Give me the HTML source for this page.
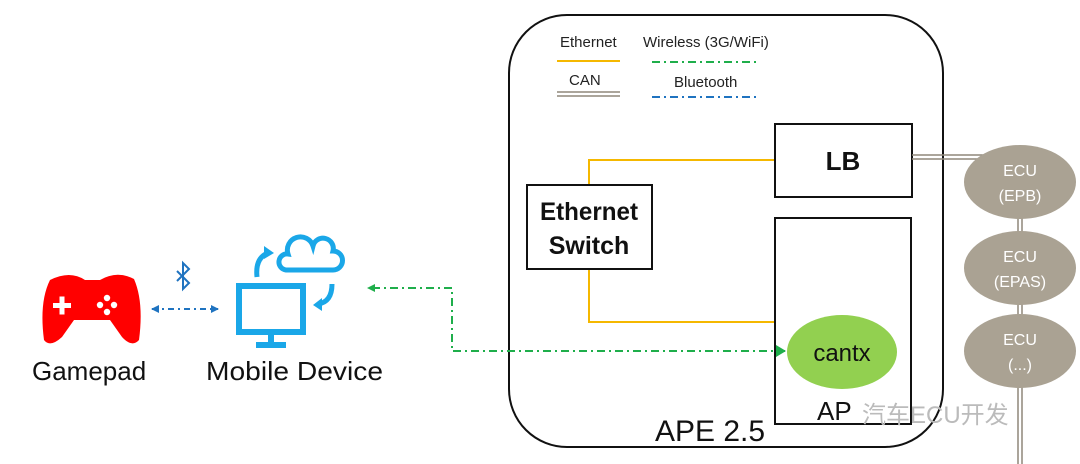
<!DOCTYPE html>
<html><head><meta charset="utf-8"><style>body{margin:0;background:#fff}svg{display:block}</style></head><body>
<svg width="1080" height="464" viewBox="0 0 1080 464" xmlns="http://www.w3.org/2000/svg" font-family="Liberation Sans, sans-serif">
<defs>
<marker id="ga" markerWidth="8" markerHeight="8" refX="7" refY="4" orient="auto" markerUnits="userSpaceOnUse"><path d="M0,0 L8,4 L0,8z" fill="#1fae4b"/></marker>
<marker id="ba" markerWidth="8" markerHeight="8" refX="7" refY="4" orient="auto-start-reverse" markerUnits="userSpaceOnUse"><path d="M0,0 L8,4 L0,8z" fill="#1f73c0"/></marker>
</defs>
<rect x="509" y="15" width="434" height="432" rx="58" fill="none" stroke="#111" stroke-width="2"/>
<text x="560" y="47" font-size="15" fill="#222">Ethernet</text>
<line x1="557" y1="61" x2="620" y2="61" stroke="#f5b800" stroke-width="2"/>
<text x="643" y="47" font-size="15" fill="#222">Wireless (3G/WiFi)</text>
<line x1="652" y1="62" x2="760" y2="62" stroke="#1fae4b" stroke-width="2" stroke-dasharray="8,4,2,4"/>
<text x="569" y="85" font-size="15" fill="#222">CAN</text>
<line x1="557" y1="92" x2="620" y2="92" stroke="#8f877a" stroke-width="1.5"/>
<line x1="557" y1="96" x2="620" y2="96" stroke="#8f877a" stroke-width="1.5"/>
<text x="674" y="87" font-size="15" fill="#222">Bluetooth</text>
<line x1="652" y1="97" x2="760" y2="97" stroke="#1f73c0" stroke-width="2" stroke-dasharray="8,4,2,4"/>
<polyline points="775,160 589,160 589,185" fill="none" stroke="#f5b800" stroke-width="2"/>
<polyline points="589,269 589,322 775,322" fill="none" stroke="#f5b800" stroke-width="2"/>
<rect x="775" y="124" width="137" height="73" fill="#fff" stroke="#111" stroke-width="2"/>
<text x="843" y="170" font-size="26" font-weight="bold" text-anchor="middle" fill="#111">LB</text>
<rect x="527" y="185" width="125" height="84" fill="#fff" stroke="#111" stroke-width="2"/>
<text x="589" y="220" font-size="25" font-weight="bold" text-anchor="middle" fill="#111" textLength="98" lengthAdjust="spacingAndGlyphs">Ethernet</text>
<text x="589" y="254" font-size="25" font-weight="bold" text-anchor="middle" fill="#111">Switch</text>
<rect x="775" y="218" width="136" height="206" fill="#fff" stroke="#111" stroke-width="2"/>
<text x="817" y="420" font-size="26" fill="#111">AP</text>
<line x1="912" y1="155" x2="1000" y2="155" stroke="#8f877a" stroke-width="1.5"/>
<line x1="912" y1="159" x2="1000" y2="159" stroke="#8f877a" stroke-width="1.5"/>
<line x1="1018" y1="182" x2="1018" y2="464" stroke="#8f877a" stroke-width="1.5"/>
<line x1="1022" y1="182" x2="1022" y2="464" stroke="#8f877a" stroke-width="1.5"/>
<g fill="#aaa293">
<ellipse cx="1020" cy="182" rx="56" ry="37"/>
<ellipse cx="1020" cy="268" rx="56" ry="37"/>
<ellipse cx="1020" cy="351" rx="56" ry="37"/>
</g>
<g fill="#fff" font-size="16" text-anchor="middle">
<text x="1020" y="176">ECU</text><text x="1020" y="201">(EPB)</text>
<text x="1020" y="262">ECU</text><text x="1020" y="287">(EPAS)</text>
<text x="1020" y="345">ECU</text><text x="1020" y="370">(...)</text>
</g>
<polyline points="785,351 452,351 452,288 368,288" fill="none" stroke="#1fae4b" stroke-width="2" stroke-dasharray="8,4,2,4" marker-end="url(#ga)"/>
<path d="M776,345 L786,351 L776,357z" fill="#1fae4b"/>
<ellipse cx="842" cy="352" rx="55" ry="37" fill="#92d050"/>
<text x="842" y="361" font-size="24" text-anchor="middle" fill="#111">cantx</text>
<text x="655" y="441" font-size="30" fill="#111">APE 2.5</text>
<text x="862" y="423" font-size="24" fill="#bbb" font-family="Liberation Sans, Noto Sans CJK SC, sans-serif">汽车ECU开发</text>
<path d="M50,280 Q70,270 85,280 L100,280 Q117,270 134,279 Q144,302 139,340 Q132,348 122,337 L110,320 L74,320 L62,337 Q50,348 44,340 Q39,302 50,280z" fill="#f00"/>
<g fill="#fff"><rect x="53" y="303" width="18" height="5"/><rect x="59.5" y="296.5" width="5" height="18"/>
<circle cx="107" cy="298" r="3.2"/><circle cx="100" cy="305" r="3.2"/><circle cx="114" cy="305" r="3.2"/><circle cx="107" cy="312" r="3.2"/></g>
<path d="M177,271 L189,283 L183,289 L183,263 L189,269 L177,281" fill="none" stroke="#1f73c0" stroke-width="2"/>
<line x1="152" y1="309" x2="218" y2="309" stroke="#1f73c0" stroke-width="2" stroke-dasharray="6,4,2,4" marker-start="url(#ba)" marker-end="url(#ba)"/>
<g fill="none" stroke="#1aa7e8" stroke-width="6">
<rect x="239" y="286" width="64" height="46"/>
<line x1="271" y1="332" x2="271" y2="344"/><line x1="256" y1="345" x2="286" y2="345"/>
<path d="M286,270 a8,8 0 0 1 2,-16 a13,13 0 0 1 25,-8 a10,10 0 0 1 20,5 a9,9 0 0 1 0,19z" stroke-width="5"/>
<path d="M257,277 Q255,258 268,253" stroke-width="5"/>
<path d="M332,284 Q332,302 318,304" stroke-width="5"/>
</g>
<path d="M264,246 L274,253 L264,259z" fill="#1aa7e8"/>
<path d="M322,298 L313,305 L322,311z" fill="#1aa7e8"/>
<text x="32" y="380" font-size="26" fill="#111">Gamepad</text>
<text x="206" y="380" font-size="26" fill="#111" textLength="177" lengthAdjust="spacingAndGlyphs">Mobile Device</text>
</svg>
</body></html>
